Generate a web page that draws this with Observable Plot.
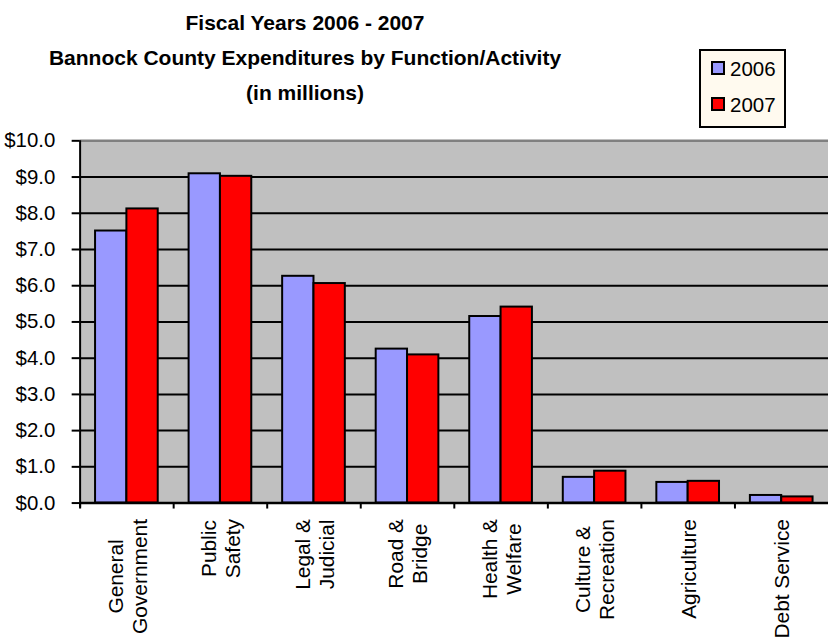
<!DOCTYPE html>
<html>
<head>
<meta charset="utf-8">
<script src="https://cdn.jsdelivr.net/npm/d3@7"></script>
<script src="https://cdn.jsdelivr.net/npm/@observablehq/plot@0.6"></script>
<style>
  html, body { margin: 0; padding: 0; background: #fff; overflow: hidden; }
  #wrap { position: relative; width: 828px; height: 639px; overflow: hidden; font-family: "Liberation Sans", Arial, sans-serif; color: #000; }
  #chart { position: absolute; left: 0; top: 0; }
  #title { position: absolute; left: 5px; width: 600px; top: 5px; text-align: center; font-weight: bold; font-size: 21px; line-height: 35px; white-space: nowrap; }
  #legend { position: absolute; left: 699px; top: 49px; width: 87px; height: 79px; box-sizing: border-box; border: 2px solid #000; background: #FFFAEF; }
  .sw { position: absolute; left: 10px; width: 14px; height: 14px; box-sizing: border-box; border: 2px solid #000; }
  .lt { position: absolute; left: 29px; font-size: 20.5px; line-height: 20.5px; white-space: nowrap; }
</style>
</head>
<body>
<div id="wrap">
  <div id="chart"></div>
  <div id="title"></div>
  <div id="legend"></div>
</div>
<script>
// ---- data ----
const categories = ["General\nGovernment", "Public\nSafety", "Legal &\nJudicial", "Road &\nBridge", "Health &\nWelfare", "Culture &\nRecreation", "Agriculture", "Debt Service"];
const years = ["2006", "2007"];
const values2006 = [7.51, 9.09, 6.26, 4.25, 5.15, 0.71, 0.57, 0.21];
const values2007 = [8.12, 9.02, 6.06, 4.09, 5.41, 0.88, 0.60, 0.17];
const yTickValues = [0, 1, 2, 3, 4, 5, 6, 7, 8, 9, 10];
const titleLines = ["Fiscal Years 2006 - 2007", "Bannock County Expenditures by Function/Activity", "(in millions)"];
const colors = ["#9999FF", "#FF0000"];

// ---- layout ----
const W = 832, H = 639, mL = 80, mR = 0, mT = 141, mB = 134;
const bw = (W - mL - mR) / categories.length;
const outer = bw * 0.165, half = bw / 2;
const yLabelSize = 20.5, xLabelSize = 21;

const rows2006 = categories.map((c, i) => ({category: c, value: values2006[i]}));
const rows2007 = categories.map((c, i) => ({category: c, value: values2007[i]}));

const ctx = document.createElement("canvas").getContext("2d");
ctx.font = `${xLabelSize}px "Liberation Sans"`;
const labelMarks = categories.map(c => {
  const w = d3.max(c.split("\n"), s => ctx.measureText(s).width);
  return Plot.text([c], {
    x: d => d, text: d => d, frameAnchor: "bottom", rotate: -90,
    textAnchor: "middle", lineAnchor: "middle", lineHeight: 1.15,
    fontSize: xLabelSize, fill: "#000", dy: 16 + w / 2
  });
});

const chart = Plot.plot({
  width: W, height: H,
  marginLeft: mL, marginRight: mR, marginTop: mT, marginBottom: mB,
  style: {fontFamily: '"Liberation Sans", Arial, sans-serif', fontSize: yLabelSize + "px", color: "#000", background: "transparent", overflow: "visible"},
  x: {type: "band", domain: categories, padding: 0, axis: null},
  y: {domain: [0, 10], axis: null},
  marks: [
    Plot.frame({fill: "#C0C0C0", stroke: null}),
    Plot.ruleY(yTickValues.filter(v => v > 0 && v < 10), {stroke: "#000", strokeWidth: 2}),
    Plot.ruleY([10], {stroke: "#808080", strokeWidth: 2.5}),
    Plot.barY(rows2006, {x: "category", y: "value", fill: colors[0], stroke: "#000", strokeWidth: 2, insetLeft: outer, insetRight: half}),
    Plot.barY(rows2007, {x: "category", y: "value", fill: colors[1], stroke: "#000", strokeWidth: 2, insetLeft: half, insetRight: outer}),
    Plot.ruleY([0], {stroke: "#000", strokeWidth: 2.5}),
    Plot.ruleX([categories[0]], {x: d => d, dx: -half, stroke: "#000", strokeWidth: 2, insetBottom: -5}),
    Plot.ruleX(categories, {x: d => d, dx: -half, y1: 0, y2: 0, insetBottom: -6, stroke: "#000", strokeWidth: 2}),
    Plot.axisY({ticks: yTickValues, tickFormat: d => "$" + d.toFixed(1), tickSize: 8, tickPadding: 17, fontSize: yLabelSize, stroke: "#000", strokeWidth: 2, fill: "#000", label: null}),
    ...labelMarks
  ]
});
document.getElementById("chart").appendChild(chart);

// title
const t = document.getElementById("title");
titleLines.forEach(s => { const d = document.createElement("div"); d.textContent = s; t.appendChild(d); });

// legend
const lg = document.getElementById("legend");
years.forEach((y, i) => {
  const sw = document.createElement("div");
  sw.className = "sw"; sw.style.top = (10 + i * 36) + "px"; sw.style.background = colors[i];
  const tx = document.createElement("div");
  tx.className = "lt"; tx.style.top = (7.6 + i * 36) + "px"; tx.textContent = y;
  lg.appendChild(sw); lg.appendChild(tx);
});
</script>
</body>
</html>
